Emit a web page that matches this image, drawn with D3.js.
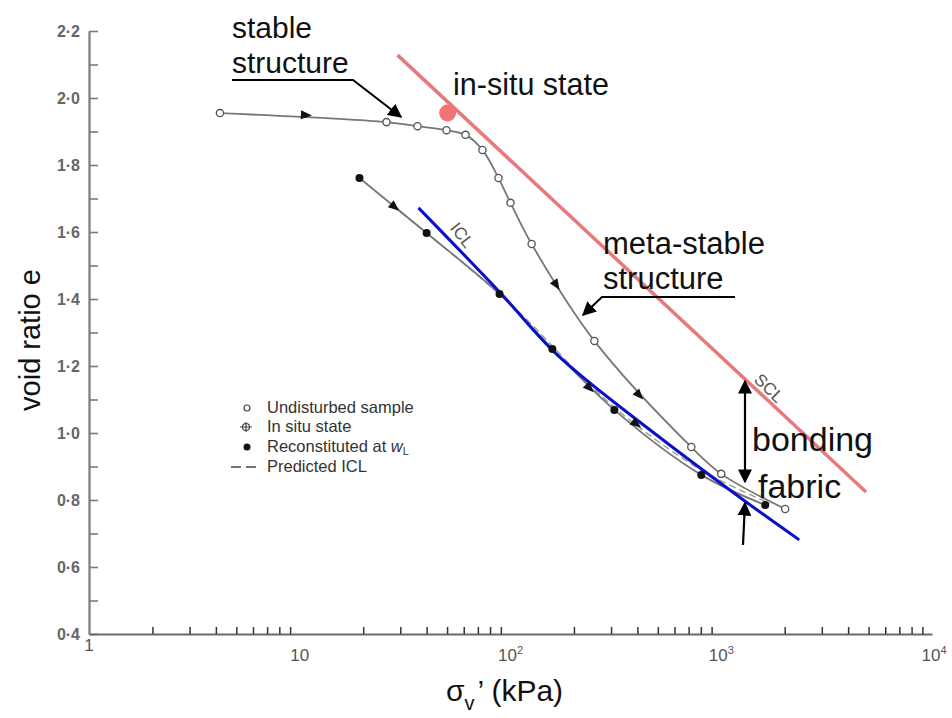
<!DOCTYPE html>
<html>
<head>
<meta charset="utf-8">
<script src="https://cdn.jsdelivr.net/npm/d3@7"></script>
<style>
  html, body { margin: 0; padding: 0; background: #fff; }
  svg { display: block; font-family: "Liberation Sans", Arial, sans-serif; }
</style>
</head>
<body>
<svg id="chart" width="952" height="718"></svg>
<script>
// ---------------- data ----------------
const yTicks = [0.4, 0.5, 0.6, 0.7, 0.8, 0.9, 1.0, 1.1, 1.2, 1.3, 1.4, 1.5, 1.6, 1.7, 1.8, 1.9, 2.0, 2.1, 2.2];
const yLabels = ["0·4", "", "0·6", "", "0·8", "", "1·0", "", "1·2", "", "1·4", "", "1·6", "", "1·8", "", "2·0", "", "2·2"];
const xDecades = [1, 10, 100, 1000, 10000];
const xDecadeBase = ["1", "10", "10", "10", "10"];
const xDecadeExp = ["", "", "2", "3", "4"];

// Undisturbed sample (open circles)
const undPressure = [4.18, 25.8, 36.2, 49.7, 61.2, 73.6, 87.7, 100, 126, 250, 721, 1000, 2010];
const undVoid     = [1.955, 1.928, 1.916, 1.904, 1.89, 1.845, 1.761, 1.687, 1.564, 1.275, 0.958, 0.878, 0.773];
const undArrowP = [10.7, 165, 408];
const undArrowE = [1.949, 1.442, 1.113];

// Reconstituted at wL (filled circles)
const reconPressure = [19.2, 40, 88.7, 158, 311, 804, 1617];
const reconVoid     = [1.761, 1.597, 1.415, 1.251, 1.069, 0.875, 0.785];
const reconArrowP = [28.2, 237, 395];
const reconArrowE = [1.675, 1.134, 1.027];

// Predicted ICL (dashed)
const predPressure = [30, 100, 300, 800, 1700];
const predVoid     = [1.66, 1.385, 1.085, 0.89, 0.79];

// ICL (blue)
const iclPressure = [36.6, 88.7, 170.7, 508, 1313, 2344];
const iclVoid     = [1.672, 1.421, 1.227, 0.988, 0.794, 0.681];

// SCL (red)
const sclPressure = [29.1, 4864];
const sclVoid     = [2.128, 0.824];

// In-situ state
const insituPressure = [50.3];
const insituVoid     = [1.955];

// Legend
const legendItems = ["Undisturbed sample", "In situ state", "Reconstituted at ", "Predicted ICL"];

// ---------------- drawing ----------------
const svg = d3.select("#chart");
const x = d3.scaleLog().domain([1, 1e4]).range([89, 932]);
const y = d3.scaleLinear().domain([0.4, 2.2]).range([634, 31]);
const zip = (a, b) => a.map((v, i) => [v, b[i]]);

const defs = svg.append("defs");
defs.append("marker").attr("id", "ah").attr("viewBox", "0 0 10 10")
  .attr("refX", 9).attr("refY", 5).attr("markerWidth", 14).attr("markerHeight", 14)
  .attr("markerUnits", "userSpaceOnUse").attr("orient", "auto-start-reverse")
  .append("path").attr("d", "M0,0 L10,5 L0,10 z").attr("fill", "#000");

// Y axis
const yAxis = d3.axisLeft(y).tickValues(yTicks).tickSize(-9).tickSizeOuter(0).tickPadding(9)
  .tickFormat((d, i) => yLabels[i]);
const gy = svg.append("g").attr("transform", "translate(89,0)").call(yAxis);
gy.select(".domain").attr("stroke", "#7a7a7a").attr("stroke-width", 2.2);
gy.selectAll(".tick line").attr("stroke", "#7a7a7a").attr("stroke-width", 1.6);
gy.selectAll(".tick text").attr("fill", "#666").attr("font-size", 16).attr("font-weight", "bold")
  .attr("font-family", "'Liberation Sans', Arial, sans-serif");

// X axis
const xMinor = [];
for (let k = 0; k < 4; k++) for (let m = 2; m <= 9; m++) xMinor.push(m * Math.pow(10, k));
const xAxis = d3.axisBottom(x).tickValues(xMinor).tickSize(-7).tickSizeOuter(0).tickFormat("");
const gx = svg.append("g").attr("transform", "translate(0,634)").call(xAxis);
gx.select(".domain").attr("stroke", "#6a6a6a").attr("stroke-width", 2);
gx.selectAll(".tick line").attr("stroke", "#333").attr("stroke-width", 1.5);

const xl = svg.append("g").selectAll("text").data(xDecades).join("text")
  .attr("x", (d, i) => x(d) + (i === 4 ? 2 : 0))
  .attr("y", (d, i) => i === 0 ? 651 : 661)
  .attr("text-anchor", "middle").attr("fill", "#555").attr("font-size", 17);
xl.append("tspan").text((d, i) => xDecadeBase[i]);
xl.append("tspan").attr("dy", -7).attr("font-size", 11).text((d, i) => xDecadeExp[i]);

// Axis titles
svg.append("text").attr("transform", "translate(40,340) rotate(-90)")
  .attr("text-anchor", "middle").attr("font-size", 29).attr("fill", "#111").text("void ratio e");
const xt = svg.append("text").attr("x", 446).attr("y", 701).attr("font-size", 30).attr("fill", "#111");
xt.append("tspan").text("σ");
xt.append("tspan").attr("dy", 9).attr("font-size", 20).text("v");
xt.append("tspan").attr("dy", -9).attr("dx", 3).text("’ (kPa)");

// Lines
const lineGen = d3.line().x(d => x(d[0])).y(d => y(d[1])).curve(d3.curveCatmullRom.alpha(0.5));
const straight = d3.line().x(d => x(d[0])).y(d => y(d[1]));

const undData = zip(undPressure, undVoid);
const reconData = zip(reconPressure, reconVoid);

svg.append("path").attr("d", lineGen(zip(predPressure, predVoid)))
  .attr("fill", "none").attr("stroke", "#999").attr("stroke-width", 1.4).attr("stroke-dasharray", "7,4");
svg.append("path").attr("d", lineGen(reconData))
  .attr("fill", "none").attr("stroke", "#777").attr("stroke-width", 1.8);
svg.append("path").attr("d", lineGen(undData))
  .attr("fill", "none").attr("stroke", "#777").attr("stroke-width", 1.8);

// SCL & ICL
svg.append("path").attr("d", straight(zip(sclPressure, sclVoid)))
  .attr("fill", "none").attr("stroke", "#e8787a").attr("stroke-width", 3.5);
svg.append("path").attr("d", lineGen(zip(iclPressure, iclVoid)))
  .attr("fill", "none").attr("stroke", "#0a10c8").attr("stroke-width", 3);

// Direction arrows on curves
function arrowAngle(data, p) {
  const px = x(p);
  let i = 0;
  while (i < data.length - 2 && x(data[i + 1][0]) < px) i++;
  const a = data[i], b = data[i + 1];
  return Math.atan2(y(b[1]) - y(a[1]), x(b[0]) - x(a[0])) * 180 / Math.PI;
}
function drawArrows(ps, es, data) {
  svg.append("g").selectAll("path").data(ps).join("path")
    .attr("d", "M6,0 L-5,-4.5 L-5,4.5 Z")
    .attr("fill", "#111")
    .attr("transform", (d, i) => `translate(${x(d)},${y(es[i])}) rotate(${arrowAngle(data, d)})`);
}
drawArrows(undArrowP, undArrowE, undData);
drawArrows(reconArrowP, reconArrowE, reconData);

// Markers
svg.append("g").selectAll("circle").data(undData).join("circle")
  .attr("cx", d => x(d[0])).attr("cy", d => y(d[1])).attr("r", 3.6)
  .attr("fill", "#fff").attr("stroke", "#555").attr("stroke-width", 1.3);
svg.append("g").selectAll("circle").data(reconData).join("circle")
  .attr("cx", d => x(d[0])).attr("cy", d => y(d[1])).attr("r", 4)
  .attr("fill", "#111");

// In-situ state
svg.append("g").selectAll("circle").data(zip(insituPressure, insituVoid)).join("circle")
  .attr("cx", d => x(d[0])).attr("cy", d => y(d[1])).attr("r", 8.5).attr("fill", "#f07474");

// Line labels
svg.append("text").attr("transform", "translate(768,389) rotate(44)")
  .attr("text-anchor", "middle").attr("dominant-baseline", "middle")
  .attr("font-size", 17).attr("fill", "#555").text("SCL");
svg.append("text").attr("transform", "translate(461,236) rotate(52)")
  .attr("text-anchor", "middle").attr("dominant-baseline", "middle")
  .attr("font-size", 17).attr("fill", "#555").text("ICL");

// Legend
const lg = svg.append("g");
const rowY = [408, 427, 447, 467];
lg.append("circle").attr("cx", 247).attr("cy", rowY[0]).attr("r", 3).attr("fill", "#fff").attr("stroke", "#444").attr("stroke-width", 1.2);
lg.append("circle").attr("cx", 246).attr("cy", rowY[1]).attr("r", 3.5).attr("fill", "none").attr("stroke", "#444").attr("stroke-width", 1.2);
lg.append("path").attr("d", `M240,${rowY[1]} H252 M246,${rowY[1] - 5} V${rowY[1] + 5}`).attr("stroke", "#444").attr("stroke-width", 1.2);
lg.append("circle").attr("cx", 247).attr("cy", rowY[2]).attr("r", 3.5).attr("fill", "#111");
lg.append("path").attr("d", `M231,${rowY[3]} H260`).attr("stroke", "#444").attr("stroke-width", 1.5).attr("stroke-dasharray", "10,5");
const lt = lg.selectAll("text").data(legendItems).join("text")
  .attr("x", 267).attr("y", (d, i) => rowY[i] + 5)
  .attr("font-size", 16.5).attr("fill", "#333").text(d => d);
const rt = lt.filter((d, i) => i === 2);
rt.append("tspan").attr("font-style", "italic").text("w");
rt.append("tspan").attr("dy", 3).attr("font-size", 11).text("L");

// Annotations
const ann = svg.append("g").attr("fill", "#111").attr("font-size", 30);
ann.append("text").attr("x", 232).attr("y", 38).text("stable");
ann.append("text").attr("x", 232).attr("y", 73).text("structure");
ann.append("path").attr("d", "M232,80 H353 L401,117").attr("fill", "none").attr("stroke", "#000").attr("stroke-width", 2)
  .attr("marker-end", "url(#ah)");
ann.append("text").attr("x", 453).attr("y", 95).attr("font-size", 30.5).text("in-situ state");
ann.append("text").attr("x", 603).attr("y", 254).attr("font-size", 31).text("meta-stable");
ann.append("text").attr("x", 603).attr("y", 289).attr("font-size", 31).text("structure");
ann.append("path").attr("d", "M735,297 H602 L583,315").attr("fill", "none").attr("stroke", "#000").attr("stroke-width", 2)
  .attr("marker-end", "url(#ah)");
ann.append("text").attr("x", 752).attr("y", 451).attr("font-size", 34).text("bonding");
ann.append("text").attr("x", 758).attr("y", 498).attr("font-size", 34).text("fabric");
ann.append("path").attr("d", "M745,381 V482").attr("stroke", "#000").attr("stroke-width", 2.2)
  .attr("marker-start", "url(#ah)").attr("marker-end", "url(#ah)");
ann.append("path").attr("d", "M743,545 L745,503").attr("stroke", "#000").attr("stroke-width", 2.2)
  .attr("marker-end", "url(#ah)");
</script>
</body>
</html>
